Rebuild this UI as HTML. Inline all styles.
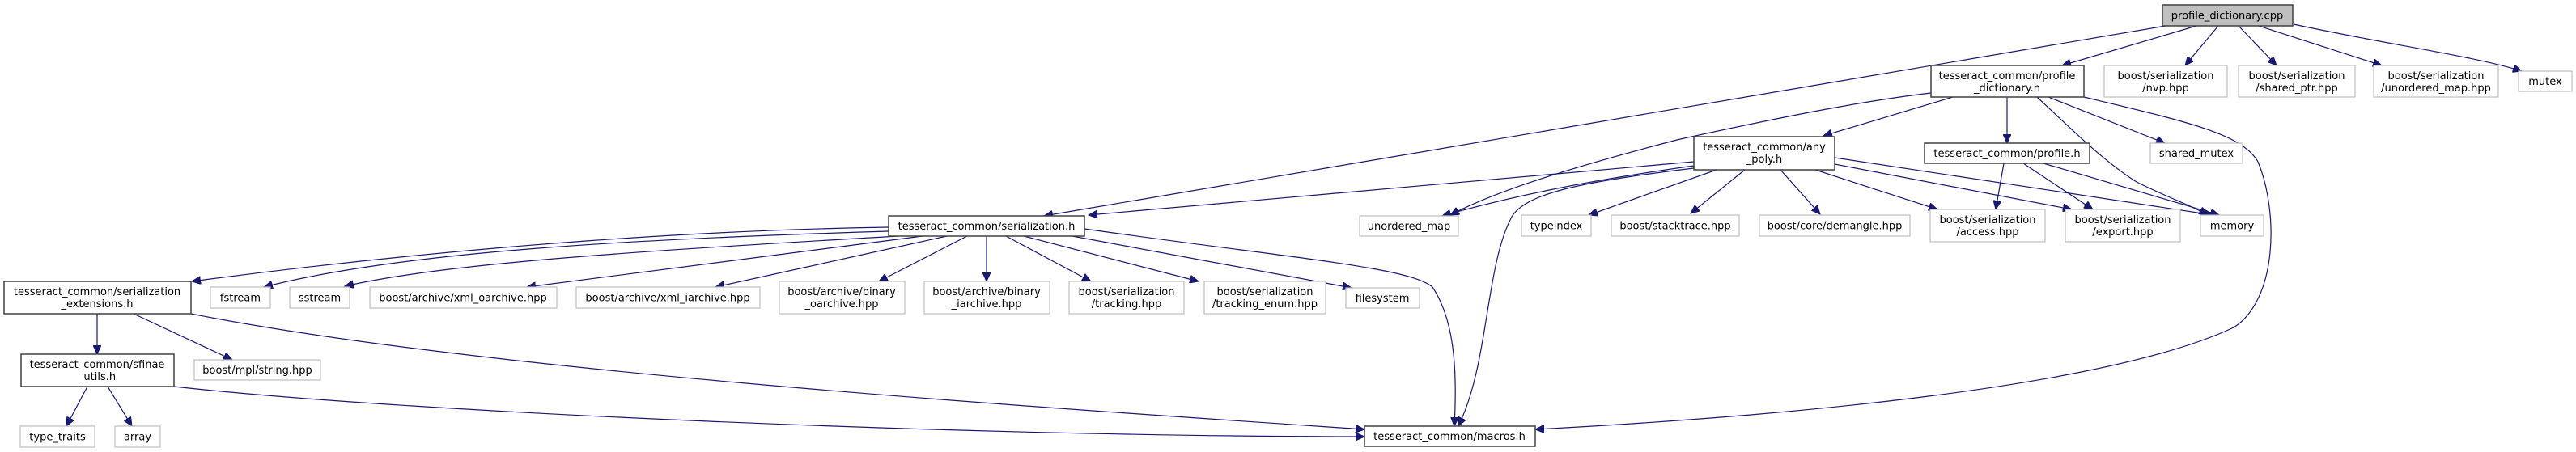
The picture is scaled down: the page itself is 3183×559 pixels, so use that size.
<!DOCTYPE html>
<html><head><meta charset="utf-8"><style>
html,body{margin:0;padding:0;background:#fff;}
svg{display:block;}
text{font-family:"DejaVu Sans","Liberation Sans",sans-serif;font-size:13px;fill:#000;text-anchor:middle;}
.e{fill:none;stroke:#191970;stroke-width:1.2;}
.b{fill:#fff;stroke:#404040;stroke-width:1.5;}
.g{fill:#fff;stroke:#bfbfbf;stroke-width:1.2;}
</style></head><body>
<svg width="3183" height="559" viewBox="0 0 3183 559" xmlns="http://www.w3.org/2000/svg">
<defs><marker id="a" markerUnits="userSpaceOnUse" markerWidth="12" markerHeight="10" refX="11" refY="5" orient="auto"><path d="M0,0 L11,5 L0,10 Z" fill="#191970" stroke="#191970"/></marker></defs>
<g marker-end="url(#a)">
<!-- cpp -->
<path class="e" d="M2714,32 L2548,81"/>
<path class="e" d="M2741,32 L2700,81"/>
<path class="e" d="M2766,32 L2813,81"/>
<path class="e" d="M2791,32 L2943,81"/>
<path class="e" d="M2834,30 C2950,55 3060,70 3116,88"/>
<path class="e" d="M2676,32 L1290,267"/>
<!-- pdh -->
<path class="e" d="M2413,120 L2253,168"/>
<path class="e" d="M2480,120 L2480,177"/>
<path class="e" d="M2531,120 L2675,177"/>
<path class="e" d="M2517,120 C2560,160 2600,200 2640,225 C2680,245 2710,255 2728,266"/>
<path class="e" d="M2386,115 C2300,125 2200,145 2072,173 C1950,205 1850,235 1792,266"/>
<path class="e" d="M2575,120 C2700,150 2770,165 2790,200 C2815,260 2815,370 2760,405 C2600,480 2200,515 1897,531"/>
<!-- any_poly -->
<path class="e" d="M2093,200 L1345,266"/>
<path class="e" d="M2093,205 C1950,225 1860,245 1782,267"/>
<path class="e" d="M2121,210 L1963,266"/>
<path class="e" d="M2156,210 L2089,264"/>
<path class="e" d="M2200,210 L2249,265"/>
<path class="e" d="M2243,210 L2394,259"/>
<path class="e" d="M2267,203 L2560,259"/>
<path class="e" d="M2267,195 L2735,266"/>
<path class="e" d="M2093,208 C1950,225 1885,240 1868,268 C1835,330 1840,450 1802,527"/>
<!-- profile.h -->
<path class="e" d="M2476,202 L2466,259"/>
<path class="e" d="M2500,202 L2586,259"/>
<path class="e" d="M2525,202 L2742,266"/>
<!-- serialization.h -->
<path class="e" d="M1098,281 C900,284 600,300 237,348"/>
<path class="e" d="M1098,286 C800,295 500,310 326,355"/>
<path class="e" d="M1110,292 C800,310 550,325 426,354"/>
<path class="e" d="M1140,292 L651,355"/>
<path class="e" d="M1170,292 L884,355"/>
<path class="e" d="M1195,292 L1086,348"/>
<path class="e" d="M1219,292 L1219,348"/>
<path class="e" d="M1243,292 L1348,348"/>
<path class="e" d="M1265,292 L1481,348"/>
<path class="e" d="M1325,292 L1670,356"/>
<path class="e" d="M1340,283 C1600,320 1740,330 1770,355 C1800,400 1800,470 1797,527"/>
<!-- ser_ext -->
<path class="e" d="M120,388 L120,438"/>
<path class="e" d="M165,388 L287,445"/>
<path class="e" d="M236,388 C600,460 1300,505 1686,531"/>
<!-- sfinae -->
<path class="e" d="M215,478 C500,510 1200,540 1686,540"/>
<path class="e" d="M108,478 L82,527"/>
<path class="e" d="M133,478 L163,527"/>
</g>
<!-- nodes -->
<rect x="2672" y="6" width="161" height="26" fill="#bfbfbf" stroke="#404040" stroke-width="1.5"/><text x="2752" y="23.5">profile_dictionary.cpp</text>
<rect class="b" x="2386" y="81" width="189" height="39"/><text x="2480" y="98">tesseract_common/profile</text><text x="2480" y="113">_dictionary.h</text>
<rect class="g" x="2600" y="81" width="152" height="39"/><text x="2676" y="98">boost/serialization</text><text x="2676" y="113">/nvp.hpp</text>
<rect class="g" x="2766" y="81" width="144" height="39"/><text x="2838" y="98">boost/serialization</text><text x="2838" y="113">/shared_ptr.hpp</text>
<rect class="g" x="2933" y="81" width="154" height="39"/><text x="3010" y="98">boost/serialization</text><text x="3010" y="113">/unordered_map.hpp</text>
<rect class="g" x="3112" y="88" width="66" height="25"/><text x="3145" y="105">mutex</text>
<rect class="b" x="2093" y="169" width="174" height="41"/><text x="2180" y="186">tesseract_common/any</text><text x="2180" y="201">_poly.h</text>
<rect class="b" x="2378" y="177" width="204" height="25"/><text x="2480" y="194">tesseract_common/profile.h</text>
<rect class="g" x="2657" y="177" width="114" height="25"/><text x="2714" y="194">shared_mutex</text>
<rect class="b" x="1098" y="267" width="242" height="25"/><text x="1219" y="284">tesseract_common/serialization.h</text>
<rect class="g" x="1680" y="267" width="122" height="25"/><text x="1741" y="284">unordered_map</text>
<rect class="g" x="1880" y="266" width="86" height="26"/><text x="1923" y="283.5">typeindex</text>
<rect class="g" x="1991" y="266" width="158" height="26"/><text x="2070" y="283.5">boost/stacktrace.hpp</text>
<rect class="g" x="2174" y="266" width="186" height="26"/><text x="2267" y="283.5">boost/core/demangle.hpp</text>
<rect class="g" x="2385" y="259" width="142" height="40"/><text x="2456" y="276">boost/serialization</text><text x="2456" y="291">/access.hpp</text>
<rect class="g" x="2552" y="259" width="142" height="40"/><text x="2623" y="276">boost/serialization</text><text x="2623" y="291">/export.hpp</text>
<rect class="g" x="2719" y="266" width="78" height="26"/><text x="2758" y="283.5">memory</text>
<rect class="b" x="5" y="348" width="231" height="40"/><text x="120" y="365">tesseract_common/serialization</text><text x="120" y="380">_extensions.h</text>
<rect class="g" x="260" y="355" width="74" height="26"/><text x="297" y="372.5">fstream</text>
<rect class="g" x="358" y="355" width="74" height="26"/><text x="395" y="372.5">sstream</text>
<rect class="g" x="457" y="355" width="231" height="26"/><text x="572" y="372.5">boost/archive/xml_oarchive.hpp</text>
<rect class="g" x="712" y="355" width="227" height="26"/><text x="825" y="372.5">boost/archive/xml_iarchive.hpp</text>
<rect class="g" x="963" y="348" width="155" height="40"/><text x="1040" y="365">boost/archive/binary</text><text x="1040" y="380">_oarchive.hpp</text>
<rect class="g" x="1142" y="348" width="155" height="40"/><text x="1219" y="365">boost/archive/binary</text><text x="1219" y="380">_iarchive.hpp</text>
<rect class="g" x="1321" y="348" width="142" height="40"/><text x="1392" y="365">boost/serialization</text><text x="1392" y="380">/tracking.hpp</text>
<rect class="g" x="1488" y="348" width="150" height="40"/><text x="1563" y="365">boost/serialization</text><text x="1563" y="380">/tracking_enum.hpp</text>
<rect class="g" x="1663" y="356" width="91" height="25"/><text x="1708" y="373">filesystem</text>
<rect class="b" x="26" y="438" width="189" height="40"/><text x="120" y="455">tesseract_common/sfinae</text><text x="120" y="470">_utils.h</text>
<rect class="g" x="240" y="445" width="156" height="25"/><text x="318" y="462">boost/mpl/string.hpp</text>
<rect class="g" x="25" y="527" width="92" height="26"/><text x="71" y="544.5">type_traits</text>
<rect class="g" x="142" y="527" width="56" height="26"/><text x="170" y="544.5">array</text>
<rect class="b" x="1686" y="527" width="211" height="25"/><text x="1791" y="544">tesseract_common/macros.h</text>
</svg>
</body></html>
